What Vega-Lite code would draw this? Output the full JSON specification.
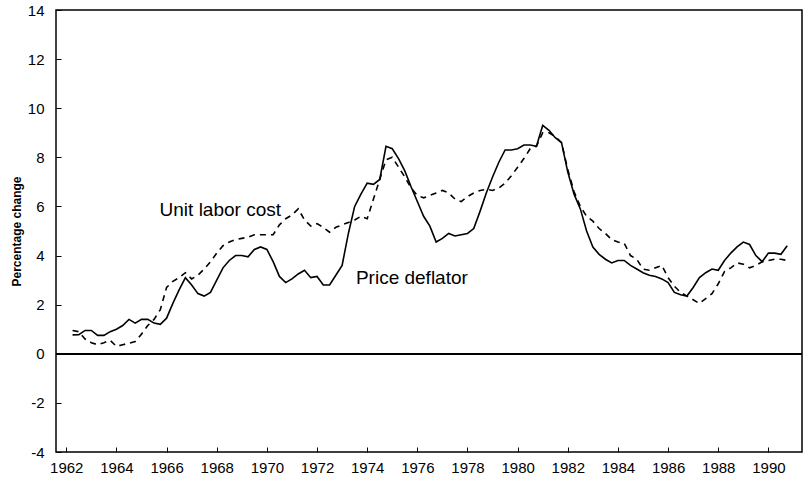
{
  "$schema": "https://vega.github.io/schema/vega-lite/v6.json",
  "autosize": "none",
  "width": 746,
  "height": 442,
  "padding": {"left": 56, "top": 10, "right": 5, "bottom": 32},
  "background": "white",
  "config": {
    "view": {"stroke": "black", "strokeWidth": 1.5},
    "font": "Liberation Sans",
    "axis": {
      "domain": false,
      "grid": false,
      "tickColor": "black",
      "tickWidth": 1,
      "labelColor": "black",
      "labelFont": "Liberation Sans",
      "labelFontSize": 15,
      "titleColor": "black"
    }
  },
  "data": {
    "values": [
      {"year": 1962.25, "price": 0.77, "ulc": 0.95},
      {"year": 1962.5, "price": 0.78, "ulc": 0.9},
      {"year": 1962.75, "price": 0.95, "ulc": 0.6},
      {"year": 1963.0, "price": 0.95, "ulc": 0.45},
      {"year": 1963.25, "price": 0.75, "ulc": 0.37},
      {"year": 1963.5, "price": 0.75, "ulc": 0.45},
      {"year": 1963.75, "price": 0.9, "ulc": 0.55},
      {"year": 1964.0, "price": 1.0, "ulc": 0.3},
      {"year": 1964.25, "price": 1.15, "ulc": 0.37},
      {"year": 1964.5, "price": 1.4, "ulc": 0.43},
      {"year": 1964.75, "price": 1.25, "ulc": 0.5},
      {"year": 1965.0, "price": 1.4, "ulc": 0.8},
      {"year": 1965.25, "price": 1.4, "ulc": 1.15},
      {"year": 1965.5, "price": 1.25, "ulc": 1.4},
      {"year": 1965.75, "price": 1.2, "ulc": 1.8},
      {"year": 1966.0, "price": 1.45, "ulc": 2.7},
      {"year": 1966.25, "price": 2.05, "ulc": 2.95},
      {"year": 1966.5, "price": 2.6, "ulc": 3.1},
      {"year": 1966.75, "price": 3.1, "ulc": 3.3},
      {"year": 1967.0, "price": 2.8, "ulc": 3.05},
      {"year": 1967.25, "price": 2.45, "ulc": 3.2},
      {"year": 1967.5, "price": 2.35, "ulc": 3.45},
      {"year": 1967.75, "price": 2.5, "ulc": 3.75},
      {"year": 1968.0, "price": 3.0, "ulc": 4.1},
      {"year": 1968.25, "price": 3.5, "ulc": 4.4},
      {"year": 1968.5, "price": 3.8, "ulc": 4.55},
      {"year": 1968.75, "price": 4.0, "ulc": 4.65},
      {"year": 1969.0, "price": 4.0, "ulc": 4.7},
      {"year": 1969.25, "price": 3.95, "ulc": 4.75},
      {"year": 1969.5, "price": 4.25, "ulc": 4.85},
      {"year": 1969.75, "price": 4.35, "ulc": 4.85},
      {"year": 1970.0, "price": 4.25, "ulc": 4.85},
      {"year": 1970.25, "price": 3.75, "ulc": 4.85},
      {"year": 1970.5, "price": 3.15, "ulc": 5.25},
      {"year": 1970.75, "price": 2.9, "ulc": 5.5},
      {"year": 1971.0, "price": 3.05, "ulc": 5.65},
      {"year": 1971.25, "price": 3.25, "ulc": 5.9},
      {"year": 1971.5, "price": 3.4, "ulc": 5.45},
      {"year": 1971.75, "price": 3.1, "ulc": 5.2},
      {"year": 1972.0, "price": 3.15, "ulc": 5.3},
      {"year": 1972.25, "price": 2.8, "ulc": 5.15},
      {"year": 1972.5, "price": 2.8, "ulc": 4.95},
      {"year": 1972.75, "price": 3.2, "ulc": 5.15},
      {"year": 1973.0, "price": 3.6, "ulc": 5.25},
      {"year": 1973.25, "price": 4.9, "ulc": 5.35},
      {"year": 1973.5, "price": 6.0, "ulc": 5.45},
      {"year": 1973.75, "price": 6.5, "ulc": 5.6},
      {"year": 1974.0, "price": 6.95, "ulc": 5.5},
      {"year": 1974.25, "price": 6.9, "ulc": 6.3},
      {"year": 1974.5, "price": 7.1, "ulc": 7.1},
      {"year": 1974.75, "price": 8.45, "ulc": 7.9},
      {"year": 1975.0, "price": 8.35, "ulc": 8.0},
      {"year": 1975.25, "price": 7.95, "ulc": 7.6},
      {"year": 1975.5, "price": 7.45, "ulc": 7.2},
      {"year": 1975.75, "price": 6.8, "ulc": 6.75},
      {"year": 1976.0, "price": 6.2, "ulc": 6.45},
      {"year": 1976.25, "price": 5.6, "ulc": 6.35},
      {"year": 1976.5, "price": 5.2, "ulc": 6.45},
      {"year": 1976.75, "price": 4.55, "ulc": 6.55},
      {"year": 1977.0, "price": 4.7, "ulc": 6.65},
      {"year": 1977.25, "price": 4.9, "ulc": 6.55},
      {"year": 1977.5, "price": 4.8, "ulc": 6.3},
      {"year": 1977.75, "price": 4.85, "ulc": 6.2},
      {"year": 1978.0, "price": 4.9, "ulc": 6.4},
      {"year": 1978.25, "price": 5.1, "ulc": 6.55},
      {"year": 1978.5, "price": 5.8, "ulc": 6.65},
      {"year": 1978.75, "price": 6.55, "ulc": 6.7},
      {"year": 1979.0, "price": 7.2, "ulc": 6.65},
      {"year": 1979.25, "price": 7.8, "ulc": 6.75},
      {"year": 1979.5, "price": 8.3, "ulc": 6.95},
      {"year": 1979.75, "price": 8.3, "ulc": 7.25},
      {"year": 1980.0, "price": 8.35, "ulc": 7.6},
      {"year": 1980.25, "price": 8.5, "ulc": 7.95},
      {"year": 1980.5, "price": 8.5, "ulc": 8.35},
      {"year": 1980.75, "price": 8.45, "ulc": 8.45},
      {"year": 1981.0, "price": 9.3, "ulc": 9.0},
      {"year": 1981.25, "price": 9.1, "ulc": 9.0},
      {"year": 1981.5, "price": 8.8, "ulc": 8.85},
      {"year": 1981.75, "price": 8.6, "ulc": 8.6},
      {"year": 1982.0, "price": 7.4, "ulc": 7.5},
      {"year": 1982.25, "price": 6.5, "ulc": 6.6},
      {"year": 1982.5, "price": 5.9, "ulc": 6.0},
      {"year": 1982.75, "price": 5.0, "ulc": 5.6},
      {"year": 1983.0, "price": 4.35, "ulc": 5.4},
      {"year": 1983.25, "price": 4.05, "ulc": 5.1},
      {"year": 1983.5, "price": 3.85, "ulc": 4.9},
      {"year": 1983.75, "price": 3.7, "ulc": 4.65},
      {"year": 1984.0, "price": 3.8, "ulc": 4.55},
      {"year": 1984.25, "price": 3.8, "ulc": 4.5},
      {"year": 1984.5, "price": 3.6, "ulc": 4.0},
      {"year": 1984.75, "price": 3.45, "ulc": 3.85},
      {"year": 1985.0, "price": 3.3, "ulc": 3.45},
      {"year": 1985.25, "price": 3.2, "ulc": 3.4},
      {"year": 1985.5, "price": 3.15, "ulc": 3.5},
      {"year": 1985.75, "price": 3.05, "ulc": 3.6},
      {"year": 1986.0, "price": 2.9, "ulc": 3.1},
      {"year": 1986.25, "price": 2.5, "ulc": 2.75},
      {"year": 1986.5, "price": 2.4, "ulc": 2.5},
      {"year": 1986.75, "price": 2.35, "ulc": 2.35},
      {"year": 1987.0, "price": 2.7, "ulc": 2.2},
      {"year": 1987.25, "price": 3.1, "ulc": 2.05},
      {"year": 1987.5, "price": 3.3, "ulc": 2.25},
      {"year": 1987.75, "price": 3.45, "ulc": 2.45},
      {"year": 1988.0, "price": 3.4, "ulc": 2.85},
      {"year": 1988.25, "price": 3.8, "ulc": 3.35},
      {"year": 1988.5, "price": 4.1, "ulc": 3.5},
      {"year": 1988.75, "price": 4.35, "ulc": 3.7},
      {"year": 1989.0, "price": 4.55, "ulc": 3.65},
      {"year": 1989.25, "price": 4.45, "ulc": 3.5},
      {"year": 1989.5, "price": 4.0, "ulc": 3.6},
      {"year": 1989.75, "price": 3.75, "ulc": 3.75},
      {"year": 1990.0, "price": 4.1, "ulc": 3.8},
      {"year": 1990.25, "price": 4.1, "ulc": 3.85},
      {"year": 1990.5, "price": 4.05, "ulc": 3.85},
      {"year": 1990.75, "price": 4.4, "ulc": 3.8}
    ]
  },
  "layer": [
    {
      "mark": {"type": "rule", "color": "black", "strokeWidth": 1.5},
      "encoding": {"y": {"datum": 0, "type": "quantitative"}}
    },
    {
      "mark": {"type": "line", "color": "black", "strokeWidth": 1.6},
      "encoding": {
        "x": {
          "field": "year", "type": "quantitative",
          "scale": {"domain": [1961.59, 1991.34], "nice": false, "zero": false},
          "axis": {"title": null, "values": [1962,1964,1966,1968,1970,1972,1974,1976,1978,1980,1982,1984,1986,1988,1990], "format": "d", "tickSize": -5, "labelPadding": 13}
        },
        "y": {
          "field": "price", "type": "quantitative",
          "scale": {"domain": [-4, 14], "nice": false, "zero": false},
          "axis": {"title": "Percentage change", "values": [-4,-3,-2,-1,0,1,2,3,4,5,6,7,8,9,10,11,12,13,14], "labelExpr": "datum.value % 2 == 0 ? '' + datum.value : ''", "tickSize": -5, "labelPadding": 17, "titleFontSize": 12, "titleFontWeight": "bold", "titlePadding": 4}
        }
      }
    },
    {
      "mark": {"type": "line", "color": "black", "strokeWidth": 1.6, "strokeDash": [6, 5]},
      "encoding": {
        "x": {"field": "year", "type": "quantitative"},
        "y": {"field": "ulc", "type": "quantitative", "title": "Percentage change"}
      }
    },
    {
      "data": {"values": [
        {"year": 1965.72, "pos": 5.87, "label": "Unit labor cost"},
        {"year": 1973.55, "pos": 3.1, "label": "Price deflator"}
      ]},
      "mark": {"type": "text", "align": "left", "baseline": "middle", "fontSize": 19, "font": "Liberation Sans", "color": "black"},
      "encoding": {
        "x": {"field": "year", "type": "quantitative"},
        "y": {"field": "pos", "type": "quantitative", "title": "Percentage change"},
        "text": {"field": "label"}
      }
    }
  ]
}
